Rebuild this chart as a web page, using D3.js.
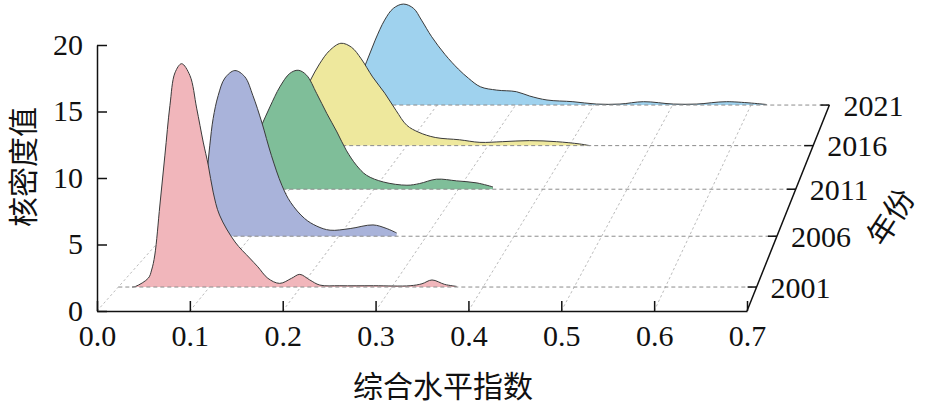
<!DOCTYPE html>
<html lang="zh">
<head>
  <meta charset="UTF-8">
  <title>核密度值</title>
  <style>
    body { margin: 0; padding: 0; background: #fff; overflow: hidden; }
    svg { display: block; }
    .num { font-family: 'Liberation Serif', 'DejaVu Serif', serif; font-size: 30px; fill: #111; }
    .cjk { font-family: 'Noto Sans CJK SC', sans-serif; font-size: 30px; fill: #111; }
    .axis path, .axis line { stroke: #111; stroke-width: 1.5px; }
    .axis text { font-family: 'Liberation Serif', serif; font-size: 30px; fill: #111; }
    .grid { stroke: #b3b3b3; stroke-width: 0.9px; stroke-dasharray: 2.5 2.5; fill: none; }
    .base { stroke: #8c8c8c; stroke-width: 1px; stroke-dasharray: 4 3; fill: none; }
    .ridge { stroke: #3a3a3a; stroke-width: 1px; fill: none; }
  </style>
</head>
<body>
  <div id="chart"></div>
  <script src="https://d3js.org/d3.v7.min.js"></script>
  <script>
    // Achsen
    const xTicks = [0, 0.1, 0.2, 0.3, 0.4, 0.5, 0.6, 0.7];
    const yTicks = [0, 5, 10, 15, 20];
    const years = ['2001', '2006', '2011', '2016', '2021'];
    const colors = ['#f1b6bb', '#a9b3da', '#7fbe99', '#eee89d', '#9fd2ee'];

    // Kerndichte je Jahr: [Index, Dichte]
    const d2001 = [[0.015,0],[0.019,0.05],[0.033,0.69],[0.0365,1.3],[0.040,2.45],[0.0456,6.28],[0.0511,10.1],
      [0.0566,13.9],[0.0621,16.4],[0.0694,17.1],[0.0785,16.2],[0.0859,13.7],[0.0931,11.1],[0.0986,9.34],
      [0.104,7.27],[0.111,5.51],[0.128,3.45],[0.144,2.22],[0.153,1.55],[0.164,0.67],[0.177,0.28],
      [0.190,0.67],[0.199,0.97],[0.210,0.54],[0.221,0.15],[0.243,0.1],[0.28,0.1],[0.32,0.1],
      [0.333,0.25],[0.344,0.54],[0.358,0.2],[0.371,0.05]];
    const d2006 = [[0.03,0],[0.037,0.4],[0.043,1.6],[0.048,4.0],[0.0528,7.25],[0.0566,9.38],[0.0623,11.2],
      [0.070,12.6],[0.0814,13.2],[0.0928,12.7],[0.102,11.2],[0.112,9.1],[0.123,6.45],[0.135,4.06],
      [0.145,2.7],[0.161,1.41],[0.175,0.8],[0.19,0.48],[0.213,0.61],[0.239,0.9],[0.254,0.63],[0.266,0.26]];
    const d2011 = [[0.025,0],[0.035,0.6],[0.045,1.8],[0.055,3.5],[0.0658,5.16],[0.0765,6.81],[0.0883,8.47],
      [0.100,9.58],[0.110,9.85],[0.120,9.44],[0.132,7.92],[0.144,6.27],[0.156,4.74],[0.167,3.23],
      [0.179,1.99],[0.191,1.16],[0.211,0.60],[0.239,0.33],[0.254,0.47],[0.274,0.83],[0.298,0.69],
      [0.322,0.52],[0.341,0.19]];
    const d2016 = [[0.03,0],[0.04,0.5],[0.05,1.3],[0.06,2.5],[0.07,4.0],[0.0812,5.58],[0.0927,7.02],
      [0.105,8.16],[0.119,8.79],[0.132,8.45],[0.144,7.45],[0.158,5.9],[0.173,4.5],[0.187,3.0],
      [0.200,1.75],[0.215,1.14],[0.235,0.7],[0.265,0.5],[0.29,0.28],[0.318,0.34],[0.351,0.43],
      [0.384,0.34],[0.413,0.14],[0.425,0]];
    const d2021 = [[0.06,0],[0.07,0.15],[0.08,0.5],[0.09,1.2],[0.10,2.3],[0.110,3.85],[0.121,5.78],
      [0.133,7.56],[0.144,8.6],[0.157,8.99],[0.170,8.6],[0.180,7.56],[0.193,6.08],[0.210,4.5],
      [0.227,3.2],[0.240,2.38],[0.255,1.63],[0.276,1.33],[0.301,1.19],[0.318,0.8],[0.340,0.45],
      [0.373,0.3],[0.403,0.09],[0.433,0.09],[0.463,0.3],[0.501,0.09],[0.531,0.09],[0.569,0.3],[0.620,0.05]];
    const series = [d2001, d2006, d2011, d2016, d2021];

    const W = 925, H = 406;
    const svg = d3.select('#chart').append('svg').attr('width', W).attr('height', H);

    // Vorderebene
    const x = d3.scaleLinear().domain([0, 0.7]).range([97, 747]);
    const y = d3.scaleLinear().domain([0, 20]).range([311, 45]);
    // Tiefe (Jahr-Index) -> 1/Skalierung, Perspektive
    const kFront = -0.445, kBack = years.length - 1;
    const depth = d3.scaleLinear().domain([kFront, kBack]).range([1, 1.1837]);
    const vp = { x: 1278, y: -1016 };

    function project(v, k, dens) {
      const s = 1 / depth(k);
      return [vp.x + (x(v) - vp.x) * s, vp.y + (y(dens) - vp.y) * s];
    }

    // Bodengitter (Diagonalen)
    const gGrid = svg.append('g');
    xTicks.slice(0, -1).forEach(v => {
      const a = project(v, kFront, 0), b = project(v, kBack, 0);
      gGrid.append('line').attr('class', 'grid')
        .attr('x1', a[0]).attr('y1', a[1]).attr('x2', b[0]).attr('y2', b[1]);
    });

    // Kurven von hinten nach vorne
    const gRidges = svg.append('g');
    for (let k = years.length - 1; k >= 0; k--) {
      const pts = series[k].map(d => project(d[0], k, d[1]));
      const floorY = project(0, k, 0)[1];
      const area = d3.area().x(p => p[0]).y0(floorY).y1(p => p[1]).curve(d3.curveCatmullRom);
      const line = d3.line().x(p => p[0]).y(p => p[1]).curve(d3.curveCatmullRom);
      gRidges.append('path').attr('d', area(pts)).attr('fill', colors[k]);
      gRidges.append('path').attr('class', 'ridge').attr('d', line(pts));
      const a = project(0, k, 0), b = project(0.7, k, 0);
      gRidges.append('line').attr('class', 'base')
        .attr('x1', a[0]).attr('y1', a[1]).attr('x2', b[0]).attr('y2', b[1]);
    }

    // Achsen
    svg.append('g').attr('class', 'axis')
      .attr('transform', `translate(${x(0)},0)`)
      .call(d3.axisLeft(y).tickValues(yTicks).tickSize(-10).tickSizeOuter(0).tickPadding(14).tickFormat(d3.format('d')))
      .call(g => g.selectAll('text').attr('dy', '0.3em'));

    svg.append('g').attr('class', 'axis')
      .attr('transform', `translate(0,${y(0)})`)
      .call(d3.axisBottom(x).tickValues(xTicks).tickSize(-10).tickSizeOuter(0).tickPadding(14).tickFormat(d3.format('.1f')));

    // Jahresachse (schräg)
    const gZ = svg.append('g');
    const z0 = project(0.7, kFront, 0), z1 = project(0.7, kBack, 0);
    gZ.append('line').attr('x1', z0[0]).attr('y1', z0[1]).attr('x2', z1[0]).attr('y2', z1[1])
      .attr('stroke', '#111').attr('stroke-width', 1.5);
    years.forEach((yr, k) => {
      const p = project(0.7, k, 0);
      gZ.append('line').attr('x1', p[0] - 9).attr('y1', p[1]).attr('x2', p[0]).attr('y2', p[1])
        .attr('stroke', '#111').attr('stroke-width', 1.5);
      gZ.append('text').attr('class', 'num')
        .attr('x', p[0] + 14).attr('y', p[1]).attr('dy', '0.35em')
        .text(yr);
    });

    // Titel
    svg.append('text').attr('class', 'cjk')
      .attr('transform', 'translate(34,167) rotate(-90)')
      .attr('text-anchor', 'middle').attr('font-size', 29)
      .text('核密度值');
    svg.append('text').attr('class', 'cjk')
      .attr('x', 443).attr('y', 397).attr('text-anchor', 'middle').attr('font-size', 31)
      .text('综合水平指数');
    svg.append('text').attr('class', 'cjk')
      .attr('transform', 'translate(891,217) rotate(-57)')
      .attr('text-anchor', 'middle').attr('dy', '0.35em').attr('font-size', 27)
      .text('年份');
  </script>
</body>
</html>
